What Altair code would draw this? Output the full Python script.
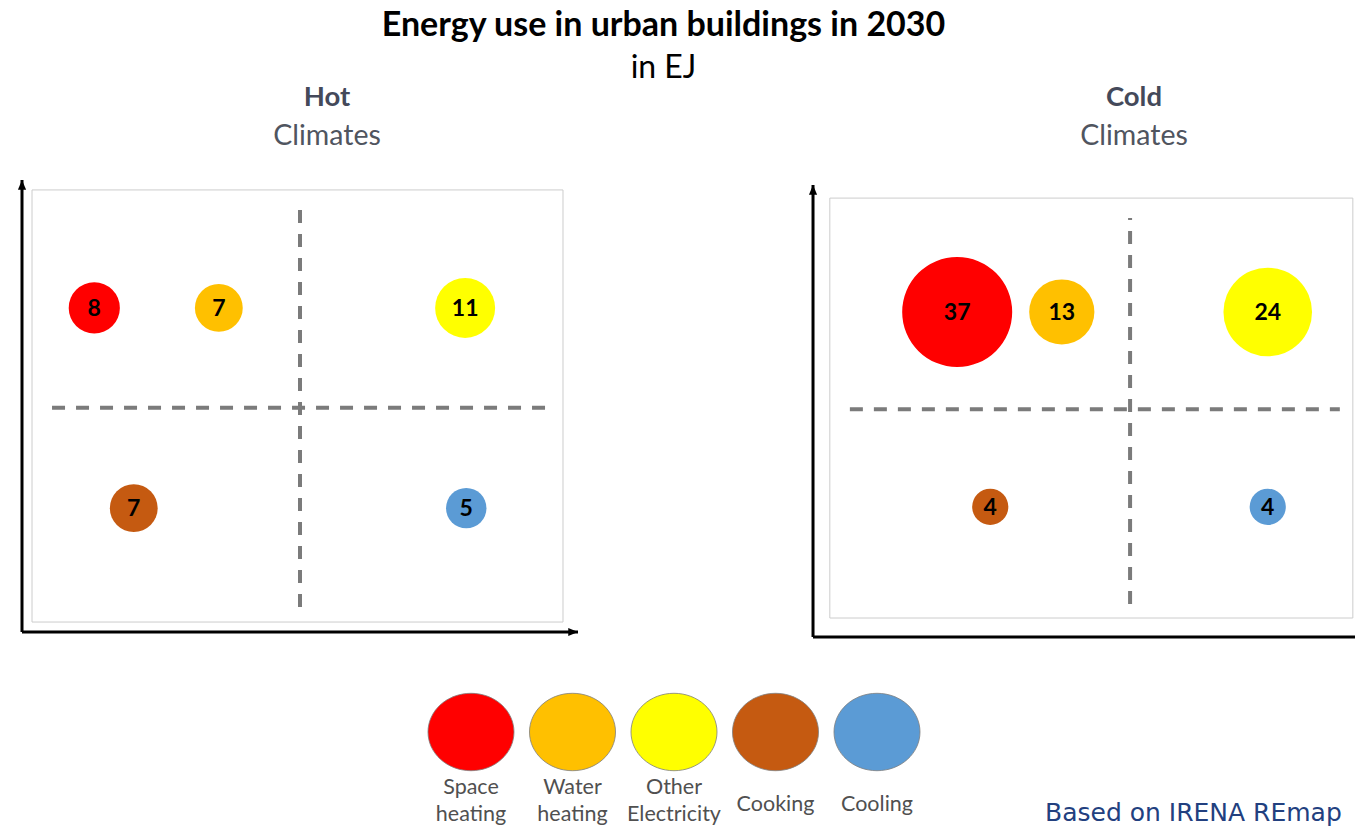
import altair as alt
import pandas as pd

# End uses shown as bubbles, one colour each
categories = ["Space heating", "Water heating", "Other Electricity", "Cooking", "Cooling"]
legend_labels = ["Space\nheating", "Water\nheating", "Other\nElectricity", "Cooking", "Cooling"]
label_lines = [2, 2, 2, 1, 1]
colors = ["#ff0000", "#ffc000", "#ffff00", "#c55a11", "#5b9bd5"]

# Energy use in 2030, EJ
hot_values = [8, 7, 11, 7, 5]
cold_values = [37, 13, 24, 4, 4]

# Quadrant placement of each end use (0-100 on both panel axes)
hot_x = [13, 35.4, 79.7, 20.1, 79.9]
hot_y = [71.7, 71.7, 71.7, 27.4, 27.4]
cold_x = [26.6, 45.9, 83.9, 32.7, 83.9]
cold_y = [71.9, 71.9, 71.9, 28.8, 28.8]

FONT = "Lato"
SIZE_SCALE = alt.Scale(domain=[0, 37], range=[0, 12100], zero=True)
COLOR_SCALE = alt.Scale(domain=categories, range=colors)
ARROW = "M 0 0 L -1 -0.42 L -1 0.42 Z"


def panel(title, values, xs, ys, width, xdom, ydom, frame, vdash, hdash, arrows, title_dx):
    df = pd.DataFrame({"use": categories, "value": values, "x": xs, "y": ys})
    xs_ = alt.Scale(domain=xdom, nice=False, zero=False)
    ys_ = alt.Scale(domain=ydom, nice=False, zero=False)

    def X(f):
        return alt.X(f, scale=xs_, axis=None)

    def Y(f):
        return alt.Y(f, scale=ys_, axis=None)

    box = alt.Chart(pd.DataFrame([frame])).mark_rect(
        fill="white", stroke="#cccccc", strokeWidth=1, clip=True
    ).encode(x=X("x:Q"), x2="x2", y=Y("y:Q"), y2="y2")

    quad = alt.Chart(pd.DataFrame([vdash, hdash])).mark_rule(
        color="#7b7b7b", strokeWidth=4, strokeDash=[13, 11], clip=True
    ).encode(x=X("x:Q"), x2="x2", y=Y("y:Q"), y2="y2")

    axes_df = pd.DataFrame([
        {"x": 0, "y": 0, "x2": 0, "y2": 100},
        {"x": 0, "y": 0, "x2": 100, "y2": 0},
    ])
    axes = alt.Chart(axes_df).mark_rule(color="black", strokeWidth=3, clip=True).encode(
        x=X("x:Q"), x2="x2", y=Y("y:Q"), y2="y2"
    )
    heads = alt.Chart(pd.DataFrame(arrows)).mark_point(
        shape=ARROW, filled=True, color="black", opacity=1, size=380, clip=True
    ).encode(x=X("x:Q"), y=Y("y:Q"), angle=alt.Angle("angle:Q", scale=None))

    bubbles = alt.Chart(df).mark_circle(opacity=1, clip=True).encode(
        x=X("x:Q"),
        y=Y("y:Q"),
        size=alt.Size("value:Q", scale=SIZE_SCALE, legend=None),
        color=alt.Color("use:N", scale=COLOR_SCALE, legend=None),
    )
    labels = alt.Chart(df).mark_text(
        font=FONT, fontSize=23, fontWeight="bold", color="black", dy=1, clip=True
    ).encode(x=X("x:Q"), y=Y("y:Q"), text="value:Q")

    return alt.layer(box, quad, axes, heads, bubbles, labels).properties(
        width=width,
        height=465,
        title=alt.TitleParams(
            text=title,
            subtitle="Climates",
            font=FONT,
            fontSize=27.5,
            fontWeight="bold",
            color="#44495a",
            subtitleFont=FONT,
            subtitleFontSize=28.5,
            subtitleColor="#50555f",
            subtitlePadding=10,
            anchor="middle",
            dx=title_dx,
            offset=30,
        ),
    )


hot = panel(
    "Hot", hot_values, hot_x, hot_y, 564,
    xdom=[-1.44, 100], ydom=[-2.88, 100],
    frame={"x": 1.8, "x2": 97.3, "y": 2.2, "y2": 97.8},
    vdash={"x": 50.0, "x2": 50.0, "y": 5.5, "y2": 93.8},
    hdash={"x": 5.4, "x2": 94.6, "y": 49.6, "y2": 49.6},
    arrows=[{"x": 0, "y": 100, "angle": 270}, {"x": 100, "y": 0, "angle": 0}],
    title_dx=31,
)
cold = panel(
    "Cold", cold_values, cold_x, cold_y, 550,
    xdom=[-1.48, 100], ydom=[-1.77, 101.1],
    frame={"x": 3.1, "x2": 99.6, "y": 4.2, "y2": 97.1},
    vdash={"x": 58.5, "x2": 58.5, "y": 7.3, "y2": 92.7},
    hdash={"x": 6.8, "x2": 97.2, "y": 50.4, "y2": 50.4},
    arrows=[{"x": 0, "y": 100, "angle": 270}],
    title_dx=54,
)

# Legend row: one swatch per end use with its name underneath
leg_df = pd.DataFrame({"use": categories, "label": legend_labels, "lines": label_lines})
leg_x = alt.X(
    "use:N",
    scale=alt.Scale(type="point", domain=categories, range=[457, 863], padding=0),
    axis=None,
)
ELLIPSE = "M -1 0 A 1 0.9 0 1 1 1 0 A 1 0.9 0 1 1 -1 0 Z"
swatches = alt.Chart(leg_df).mark_point(
    shape=ELLIPSE, filled=True, opacity=1, stroke="#7f7f7f", strokeWidth=0.8, size=7400
).encode(
    x=leg_x,
    y=alt.value(52),
    fill=alt.Fill("use:N", scale=COLOR_SCALE, legend=None),
)
text_style = dict(
    font=FONT, fontSize=21.5, lineBreak="\n", lineHeight=27, baseline="middle",
    color="#505050", clip=True,
)
names2 = alt.Chart(leg_df).transform_filter("datum.lines == 2").mark_text(**text_style).encode(
    x=leg_x, y=alt.value(108), text="label:N"
)
names1 = alt.Chart(leg_df).transform_filter("datum.lines == 1").mark_text(**text_style).encode(
    x=leg_x, y=alt.value(125), text="label:N"
)
source = alt.Chart(pd.DataFrame({"note": ["Based on IRENA REmap"]})).mark_text(
    font="DejaVu Sans", fontSize=25, align="left", baseline="middle", color="#22407f", clip=True
).encode(x=alt.value(1031), y=alt.value(133), text="note:N")
legend = alt.layer(swatches, names2, names1, source).properties(width=1341, height=147)

chart = alt.vconcat(
    alt.hconcat(hot, cold, spacing=227),
    legend,
    spacing=35,
).properties(
    title=alt.TitleParams(
        text="Energy use in urban buildings in 2030",
        subtitle="in EJ",
        font=FONT,
        fontSize=34,
        fontWeight="bold",
        color="black",
        subtitleFont=FONT,
        subtitleFontSize=32,
        subtitleColor="black",
        subtitlePadding=10,
        anchor="middle",
        dx=-21,
        offset=0,
    ),
    padding={"left": 14, "top": 9, "right": 0, "bottom": 0},
    background="white",
).configure_view(stroke=None)

chart.save("out.html", embed_options={"renderer": "svg", "actions": False})
